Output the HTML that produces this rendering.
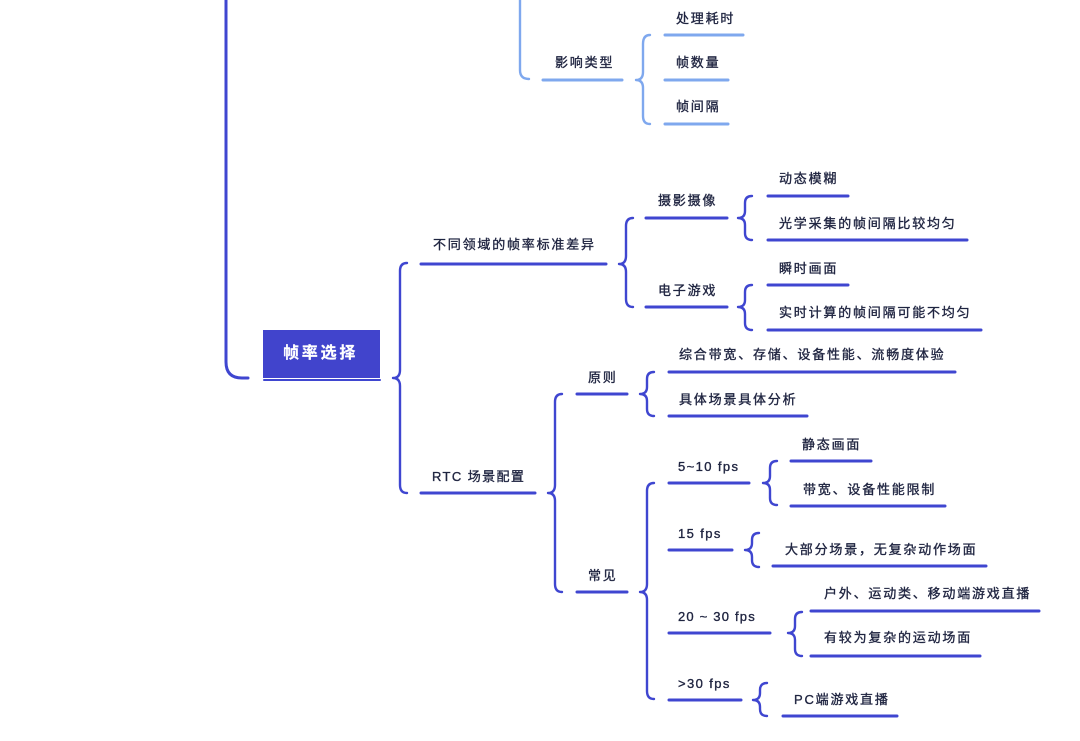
<!DOCTYPE html>
<html><head><meta charset="utf-8"><style>
html,body{margin:0;padding:0;background:#fff;}
svg{display:block;}
text{font-family:"Liberation Sans","Noto Sans CJK SC",sans-serif;font-size:13px;fill:#1f2440;stroke:#1f2440;stroke-width:0.35;letter-spacing:1.8px;}
.d{stroke:#3f46d0;fill:none;stroke-linecap:round;stroke-linejoin:round;}
.l{stroke:#7fa8ee;fill:none;stroke-linecap:round;stroke-linejoin:round;}
.u{stroke-width:3;}
.b{stroke-width:2.4;}
</style></head><body>
<svg width="1080" height="741" viewBox="0 0 1080 741" xmlns="http://www.w3.org/2000/svg">
<!-- top light-blue section -->
<path class="l b" d="M520,0 V70 Q520,79 529,79"/>
<path class="l u" d="M543,80 H622"/>
<path class="l b" d="M650,35 Q643,35 643,44 V72 Q643,80 636,80 Q643,80 643,88 V116 Q643,124 650,124"/>
<path class="l u" d="M665,35 H743"/>
<path class="l u" d="M665,80 H728"/>
<path class="l u" d="M665,124 H728"/>
<text x="676" y="23">处理耗时</text>
<text x="555" y="67">影响类型</text>
<text x="676" y="67">帧数量</text>
<text x="676" y="111">帧间隔</text>

<!-- main left line -->
<path class="d" stroke-width="3" d="M226,0 V362 Q226,378 242,378 H248"/>

<!-- root -->
<rect x="263" y="330" width="117" height="48" fill="#4144cc"/>
<path class="d" stroke-width="2" d="M264,380 H380"/>
<text x="283" y="358" style="font-size:16px;fill:#fff;stroke:#fff;stroke-width:0.2;font-weight:bold;letter-spacing:2.8px">帧率选择</text>

<!-- root bracket -->
<path class="d b" d="M407,263 Q400,263 400,271 V370 Q400,378 393,378 Q400,378 400,386 V485 Q400,493 407,493"/>

<!-- level 1 -->
<path class="d u" d="M421,264 H606"/>
<text x="433" y="249">不同领域的帧率标准差异</text>
<path class="d u" d="M421,493 H535"/>
<text x="432" y="481" style="letter-spacing:1.4px">RTC 场景配置</text>

<!-- bracket 不同领域 -->
<path class="d b" d="M633,218 Q626,218 626,226 V256 Q626,264 619,264 Q626,264 626,272 V299 Q626,307 633,307"/>
<path class="d u" d="M646,218 H727"/>
<path class="d u" d="M646,307 H727"/>
<text x="658" y="205">摄影摄像</text>
<text x="658" y="295">电子游戏</text>

<!-- bracket 摄影摄像 -->
<path class="d b" d="M752,196 Q745,196 745,203 V211 Q745,218 738,218 Q745,218 745,225 V233 Q745,240 752,240"/>
<path class="d u" d="M768,196 H848"/>
<path class="d u" d="M768,240 H967"/>
<text x="779" y="183">动态模糊</text>
<text x="779" y="228">光学采集的帧间隔比较均匀</text>

<!-- bracket 电子游戏 -->
<path class="d b" d="M752,285 Q745,285 745,292 V300 Q745,307 738,307 Q745,307 745,314 V323 Q745,330 752,330"/>
<path class="d u" d="M768,285 H848"/>
<path class="d u" d="M768,330 H981"/>
<text x="779" y="273">瞬时画面</text>
<text x="779" y="317">实时计算的帧间隔可能不均匀</text>

<!-- RTC bracket -->
<path class="d b" d="M562,394 Q555,394 555,402 V485 Q555,493 548,493 Q555,493 555,501 V584 Q555,592 562,592"/>
<path class="d u" d="M577,394 H627"/>
<path class="d u" d="M577,592 H627"/>
<text x="588" y="382">原则</text>
<text x="588" y="580">常见</text>

<!-- 原则 bracket -->
<path class="d b" d="M654,372 Q647,372 647,379 V387 Q647,394 640,394 Q647,394 647,401 V409 Q647,416 654,416"/>
<path class="d u" d="M669,372 H955"/>
<path class="d u" d="M669,416 H807"/>
<text x="679" y="359">综合带宽、存储、设备性能、流畅度体验</text>
<text x="679" y="404">具体场景具体分析</text>

<!-- 常见 bracket -->
<path class="d b" d="M654,483 Q647,483 647,491 V584 Q647,592 640,592 Q647,592 647,600 V691 Q647,699 654,699"/>
<path class="d u" d="M669,483 H749"/>
<path class="d u" d="M669,550 H732"/>
<path class="d u" d="M669,633 H770"/>
<path class="d u" d="M669,700 H741"/>
<text x="678" y="471" style="letter-spacing:1.4px">5~10 fps</text>
<text x="678" y="538" style="letter-spacing:1.4px">15 fps</text>
<text x="678" y="621" style="letter-spacing:1.2px">20 ~ 30 fps</text>
<text x="678" y="688" style="letter-spacing:1.4px">&gt;30 fps</text>

<!-- 5~10 bracket -->
<path class="d b" d="M777,461 Q770,461 770,468 V476 Q770,483 763,483 Q770,483 770,490 V498 Q770,505 777,505"/>
<path class="d u" d="M791,461 H871"/>
<path class="d u" d="M791,506 H945"/>
<text x="802" y="449">静态画面</text>
<text x="803" y="494">带宽、设备性能限制</text>

<!-- 15 bracket -->
<path class="d b" d="M759,533 Q752,533 752,540 V543 Q752,550 745,550 Q752,550 752,557 V560 Q752,567 759,567"/>
<path class="d u" d="M773,566 H986"/>
<text x="785" y="554">大部分场景，无复杂动作场面</text>

<!-- 20~30 bracket -->
<path class="d b" d="M802,612 Q795,612 795,619 V626 Q795,633 788,633 Q795,633 795,640 V649 Q795,656 802,656"/>
<path class="d u" d="M811,611 H1039"/>
<path class="d u" d="M811,656 H980"/>
<text x="824" y="598">户外、运动类、移动端游戏直播</text>
<text x="824" y="642">有较为复杂的运动场面</text>

<!-- >30 bracket -->
<path class="d b" d="M767,683 Q760,683 760,690 V693 Q760,700 753,700 Q760,700 760,707 V709 Q760,716 767,716"/>
<path class="d u" d="M783,716 H897"/>
<text x="794" y="704">PC端游戏直播</text>
</svg>
</body></html>
